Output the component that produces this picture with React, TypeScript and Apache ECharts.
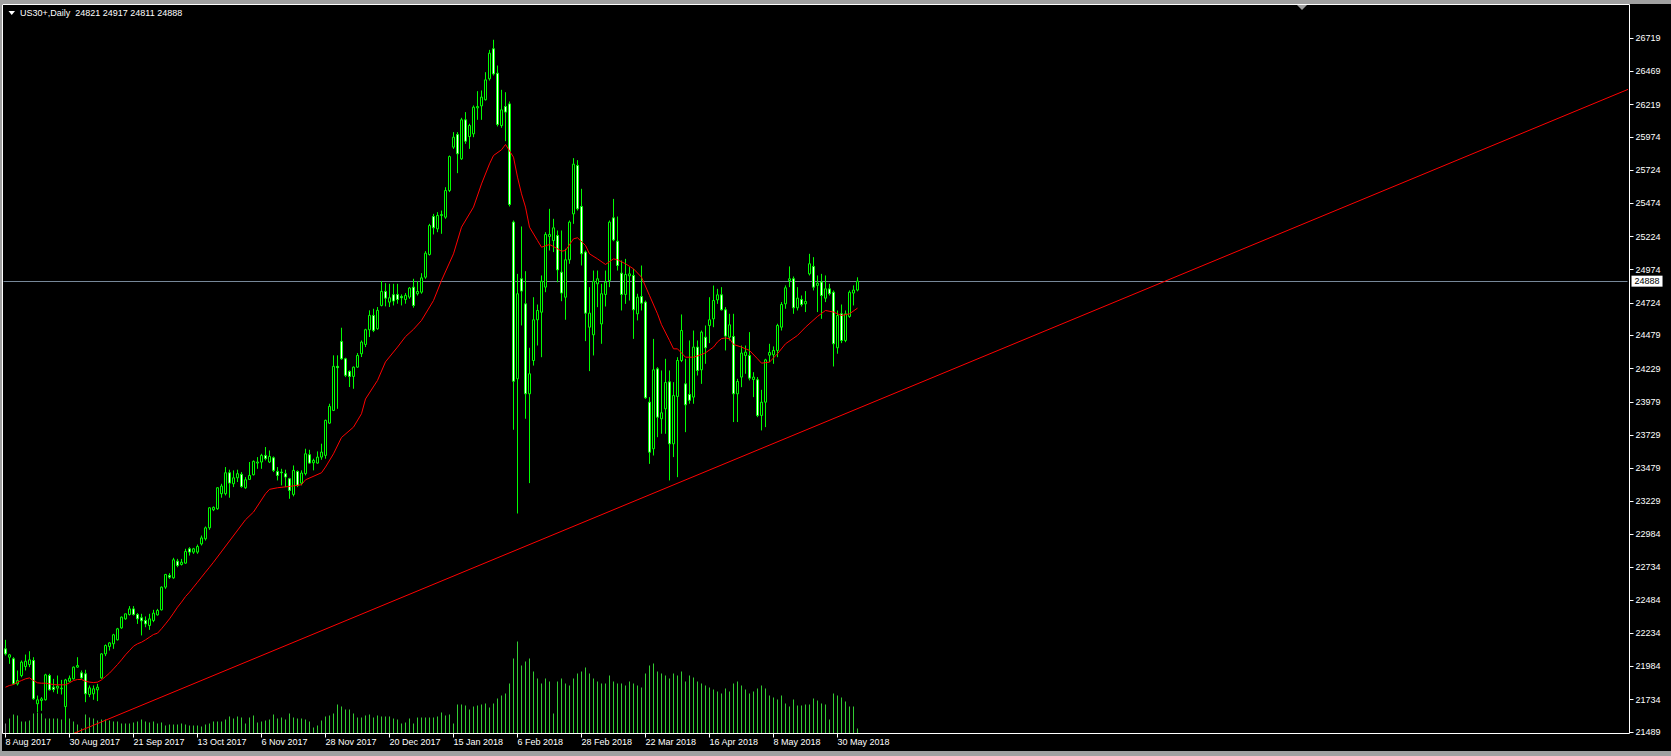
import React, { useEffect, useRef } from 'react';
import * as echarts from 'echarts';

const FONT = '"Liberation Sans", Arial, sans-serif';

const symbolName = 'US30+';
const periodName = 'Daily';

// daily bars, 8 Aug 2017 .. 6 Jun 2018
const opens = [
  22117, 22054, 22042, 21853, 21916, 21984, 21999, 22029, 21703, 21728,
  21733, 21916, 21828, 21821, 21816, 21682, 21873, 21891, 21979, 21936,
  21929, 21773, 21778, 21808, 21898, 22079, 22135, 22155, 22185, 22275,
  22343, 22376, 22418, 22376, 22351, 22331, 22293, 22331, 22373, 22411,
  22582, 22670, 22652, 22778, 22753, 22763, 22871, 22846, 22846, 22908,
  22946, 23029, 23165, 23173, 23286, 23286, 23444, 23361, 23406, 23432,
  23331, 23394, 23429, 23517, 23525, 23575, 23525, 23557, 23454, 23449,
  23437, 23399, 23281, 23454, 23366, 23437, 23580, 23519, 23517, 23562,
  23575, 23818, 23914, 24246, 24434, 24303, 24208, 24170, 24240, 24341,
  24411, 24522, 24630, 24529, 24705, 24811, 24730, 24786, 24788, 24773,
  24750, 24768, 24843, 24793, 24805, 24918, 25089, 25375, 25282, 25383,
  25370, 25571, 25898, 25993, 25810, 26104, 25978, 25998, 26194, 26209,
  26255, 26413, 26639, 26455, 26061, 26204, 26224, 25333, 24152, 24906,
  24717, 24039, 24290, 24597, 24654, 24843, 25225, 25194, 25232, 24956,
  24767, 25049, 25395, 25760, 25451, 25107, 24541, 24484, 24868, 24566,
  24788, 24893, 25365, 25189, 24948, 24788, 24928, 24931, 24642, 24772,
  24730, 23976, 23625, 24227, 23851, 23926, 24129, 23662, 24019, 24290,
  24114, 24034, 24014, 24391, 24220, 24466, 24554, 24604, 24747, 24785,
  24672, 24466, 24471, 24039, 24165, 24328, 24328, 24147, 24145, 23876,
  23976, 24330, 24333, 24366, 24541, 24717, 24893, 24906, 24687, 24750,
  24717, 24943, 24999, 24856, 24881, 24760, 24830, 24805, 24386, 24642,
  24441, 24622, 24798, 24821,
];
const highs = [
  22185, 22079, 22054, 21954, 22029, 22074, 22099, 22054, 21765, 21753,
  21929, 21929, 21891, 21916, 21883, 21891, 21916, 21984, 22054, 21954,
  21959, 21841, 21841, 21853, 22084, 22150, 22167, 22230, 22275, 22361,
  22381, 22439, 22439, 22386, 22381, 22361, 22381, 22411, 22418, 22587,
  22682, 22687, 22803, 22795, 22795, 22871, 22883, 22878, 22903, 22971,
  23039, 23185, 23190, 23336, 23361, 23487, 23467, 23462, 23467, 23449,
  23411, 23525, 23537, 23562, 23587, 23638, 23612, 23567, 23487, 23474,
  23467, 23406, 23499, 23462, 23462, 23625, 23617, 23550, 23605, 23663,
  23844, 23964, 24329, 24329, 24537, 24311, 24215, 24245, 24346, 24441,
  24529, 24668, 24680, 24693, 24889, 24873, 24868, 24868, 24868, 24788,
  24798, 24843, 24906, 24888, 24948, 25114, 25320, 25395, 25408, 25420,
  25596, 25835, 26011, 26011, 26119, 26162, 26074, 26212, 26320, 26325,
  26463, 26631, 26707, 26513, 26330, 26312, 26242, 25345, 24943, 25300,
  24963, 24386, 24767, 24712, 24931, 25257, 25433, 25358, 25270, 25270,
  25132, 25345, 25815, 25800, 25584, 25119, 24843, 24968, 24968, 24868,
  24968, 25345, 25508, 25375, 25044, 25056, 24994, 24981, 24793, 25006,
  24742, 24014, 24453, 24240, 24215, 24303, 24215, 24127, 24315, 24637,
  24303, 24441, 24516, 24441, 24516, 24554, 24767, 24855, 24830, 24843,
  24692, 24642, 24642, 24152, 24403, 24403, 24504, 24202, 24165, 24069,
  24303, 24416, 24396, 24567, 24730, 24856, 24999, 24923, 24843, 24780,
  24813, 25094, 25069, 24931, 24943, 24931, 24868, 24818, 24667, 24712,
  24667, 24818, 24856, 24917,
];
const lows = [
  22067, 22004, 21846, 21841, 21903, 21954, 21979, 21733, 21640, 21650,
  21728, 21803, 21790, 21778, 21773, 21560, 21866, 21886, 21974, 21891,
  21715, 21753, 21733, 21723, 21891, 22062, 22104, 22117, 22180, 22268,
  22336, 22368, 22368, 22305, 22218, 22280, 22260, 22318, 22368, 22406,
  22569, 22645, 22645, 22732, 22745, 22758, 22820, 22833, 22833, 22896,
  22933, 23014, 23155, 23165, 23256, 23273, 23256, 23336, 23374, 23331,
  23323, 23394, 23424, 23474, 23474, 23537, 23517, 23449, 23386, 23349,
  23336, 23248, 23266, 23336, 23349, 23424, 23512, 23462, 23512, 23542,
  23550, 23813, 23909, 23926, 24296, 24165, 24090, 24077, 24235, 24316,
  24391, 24467, 24504, 24522, 24698, 24698, 24693, 24705, 24718, 24705,
  24718, 24755, 24688, 24780, 24793, 24906, 25081, 25240, 25257, 25245,
  25358, 25559, 25885, 25702, 25802, 25923, 25885, 25973, 26104, 26104,
  26250, 26400, 26438, 26054, 26044, 25943, 25451, 23768, 23137, 24554,
  23851, 23366, 24252, 24403, 24315, 24805, 25119, 25107, 24880, 24737,
  24597, 25019, 25320, 25420, 25006, 24436, 24210, 24328, 24692, 24416,
  24697, 24843, 25189, 24968, 24667, 24717, 24742, 24453, 24592, 24667,
  24001, 23511, 23574, 23712, 23738, 23738, 23386, 23562, 23411, 24278,
  23750, 23964, 23964, 24177, 24114, 24265, 24421, 24541, 24717, 24667,
  24366, 24441, 23826, 23826, 24089, 24190, 24140, 24014, 23863, 23763,
  23788, 24278, 24265, 24315, 24516, 24680, 24843, 24642, 24667, 24697,
  24655, 24931, 24818, 24655, 24604, 24730, 24780, 24245, 24341, 24421,
  24428, 24612, 24705, 24811,
];
const closes = [
  22079, 22072, 21853, 21878, 22017, 22024, 22034, 21740, 21733, 21740,
  21921, 21808, 21810, 21836, 21821, 21883, 21896, 21979, 21991, 21898,
  21778, 21823, 21816, 21828, 22079, 22142, 22162, 22223, 22268, 22356,
  22381, 22418, 22376, 22343, 22328, 22305, 22343, 22386, 22406, 22582,
  22677, 22657, 22788, 22745, 22770, 22851, 22846, 22871, 22888, 22953,
  23029, 23180, 23183, 23331, 23344, 23444, 23366, 23406, 23437, 23341,
  23391, 23424, 23530, 23525, 23575, 23550, 23567, 23462, 23424, 23444,
  23412, 23311, 23462, 23349, 23442, 23587, 23517, 23537, 23562, 23600,
  23839, 23944, 24246, 24236, 24303, 24178, 24170, 24240, 24328, 24429,
  24522, 24630, 24517, 24668, 24811, 24760, 24763, 24738, 24750, 24763,
  24781, 24836, 24705, 24810, 24913, 25099, 25307, 25290, 25383, 25390,
  25571, 25827, 25973, 25848, 26104, 25943, 26061, 26199, 26204, 26275,
  26405, 26606, 26450, 26069, 26179, 26162, 25466, 24134, 24793, 24813,
  24039, 24190, 24597, 24667, 24888, 25240, 25240, 25290, 24973, 24798,
  25049, 25333, 25770, 25433, 25094, 24647, 24647, 24888, 24906, 24793,
  24881, 25333, 25199, 25006, 24788, 24938, 24943, 24672, 24767, 24722,
  24009, 23599, 24220, 23863, 23896, 24124, 23662, 24026, 24290, 24516,
  23956, 23990, 24391, 24215, 24504, 24386, 24597, 24742, 24785, 24672,
  24474, 24559, 24039, 24132, 24346, 24353, 24157, 24165, 23876, 23976,
  24295, 24351, 24366, 24554, 24712, 24838, 24906, 24687, 24760, 24712,
  24735, 25019, 24843, 24873, 24780, 24830, 24793, 24416, 24629, 24441,
  24642, 24805, 24821, 24888,
];
// tick volume, thousands
const volumes = [
  10, 15, 19, 18, 12, 12, 13, 20, 21, 20,
  15, 15, 15, 15, 14, 18, 15, 12, 9, 5,
  19, 16, 15, 13, 14, 14, 13, 12, 12, 10,
  10, 10, 11, 12, 14, 12, 11, 12, 10, 11,
  8, 9, 9, 9, 10, 9, 8, 8, 8, 7,
  9, 10, 12, 12, 12, 14, 17, 15, 17, 16,
  10, 16, 18, 11, 12, 13, 14, 19, 15, 16,
  14, 20, 16, 15, 15, 14, 12, 6, 8, 13,
  17, 18, 20, 29, 27, 24, 24, 20, 16, 16,
  18, 19, 16, 18, 17, 17, 17, 15, 14, 10,
  11, 15, 10, 16, 16, 16, 16, 16, 17, 21,
  18, 19, 10, 29, 29, 28, 24, 27, 28, 29,
  30, 26, 30, 35, 38, 40, 50, 75, 92, 68,
  72, 75, 62, 55, 50, 55, 52, 20, 52, 55,
  50, 48, 55, 60, 62, 66, 60, 55, 52, 50,
  50, 58, 52, 50, 50, 48, 52, 50, 48, 46,
  60, 68, 70, 62, 60, 58, 55, 60, 58, 62,
  52, 58, 56, 52, 50, 48, 46, 44, 42, 40,
  45, 42, 50, 52, 48, 44, 40, 42, 45, 48,
  45, 38, 36, 34, 38, 30, 27, 34, 28, 28,
  29, 29, 35, 33, 30, 29, 14, 40, 38, 36,
  32, 27, 27, 5,
];
// moving average (red), [bar index, value]
const maPoints = [
  [0, 21828], [1, 21841], [2, 21848], [3, 21866], [4, 21878], [5, 21891], [6, 21898],
  [7, 21878], [8, 21861], [9, 21858], [10, 21858], [11, 21853], [12, 21848], [13, 21846],
  [15, 21846], [16, 21861], [17, 21878], [18, 21886], [19, 21886], [20, 21873], [21, 21866],
  [22, 21863], [23, 21866], [24, 21883], [25, 21908], [26, 21934], [27, 21966], [28, 21999],
  [29, 22034], [30, 22072], [31, 22104], [32, 22137], [33, 22155], [34, 22167], [35, 22185],
  [36, 22205], [37, 22225], [38, 22235], [39, 22268], [40, 22305], [41, 22343], [42, 22386],
  [43, 22431], [44, 22469], [45, 22511], [46, 22544], [47, 22582], [48, 22619], [49, 22657],
  [50, 22695], [51, 22732], [52, 22770], [60, 23090], [62, 23148], [65, 23286], [66, 23319],
  [68, 23331], [71, 23341], [74, 23354], [75, 23391], [79, 23444], [80, 23487], [82, 23587],
  [84, 23710], [87, 23788], [89, 23889], [90, 24000], [93, 24140], [95, 24280], [98, 24391],
  [100, 24470], [102, 24525], [104, 24592], [107, 24742], [109, 24893], [112, 25094],
  [114, 25295], [117, 25446], [119, 25621], [121, 25772], [122, 25835], [124, 25878],
  [125, 25918], [127, 25822], [128, 25672], [129, 25546], [130, 25446], [131, 25295],
  [133, 25194], [134, 25144], [136, 25164], [137, 25149], [139, 25114], [140, 25119],
  [142, 25207], [143, 25215], [145, 25157], [146, 25094], [148, 25056], [150, 25014],
  [152, 25056], [153, 25049], [155, 25019], [157, 24981], [159, 24918], [161, 24780],
  [163, 24642], [164, 24560], [166, 24441], [167, 24378], [168, 24378], [170, 24315],
  [172, 24315], [174, 24335], [175, 24348], [177, 24391], [178, 24430], [179, 24455],
  [180, 24460], [181, 24454], [182, 24411], [184, 24391], [186, 24366], [188, 24303],
  [189, 24270], [191, 24278], [193, 24341], [195, 24416], [198, 24479], [200, 24541],
  [203, 24622], [205, 24667], [207, 24655], [209, 24629], [211, 24642], [213, 24685],
];
// trend line anchors [bar index, price]
const trendPoints = [[17, 21479], [406, 26338]];

const dateTickLabels = [
  '8 Aug 2017', '30 Aug 2017', '21 Sep 2017', '13 Oct 2017', '6 Nov 2017', '28 Nov 2017',
  '20 Dec 2017', '15 Jan 2018', '6 Feb 2018', '28 Feb 2018', '22 Mar 2018', '16 Apr 2018',
  '8 May 2018', '30 May 2018',
];
const barsPerDateTick = 16;
const priceTicks = [
  26719, 26469, 26219, 25974, 25724, 25474, 25224, 24974, 24724, 24479, 24229,
  23979, 23729, 23479, 23229, 22984, 22734, 22484, 22234, 21984, 21734, 21489,
];
const priceMin = 21479;
const priceMax = 26973;
const totalSlots = 406;

export default function App() {
  const ref = useRef<HTMLDivElement>(null);
  useEffect(() => {
    const chart = echarts.init(ref.current!, null, { renderer: 'svg', width: 1671, height: 756 });
    const n = opens.length;
    const cats = Array.from({ length: totalSlots }, (_, i) => String(i));
    const candleData = opens.map((o, i) => [o, closes[i], lows[i], highs[i]]);
    const last = n - 1;
    const isTick = (i: number) => i % barsPerDateTick === 0 && i < n;
    const titleText = `${symbolName},${periodName}  ${opens[last]} ${highs[last]} ${lows[last]} ${closes[last]}`;

    chart.setOption({
      animation: false,
      backgroundColor: '#000000',
      grid: { left: 3.5, top: 4.5, width: totalSlots * 4, height: 729, show: false },
      xAxis: {
        type: 'category',
        data: cats,
        boundaryGap: true,
        axisLine: { show: false },
        axisTick: {
          show: true,
          alignWithLabel: true,
          interval: (i: number) => isTick(i),
          length: 4,
          lineStyle: { color: '#ffffff', width: 1 },
        },
        axisLabel: {
          interval: (i: number) => isTick(i),
          formatter: (_v: string, i: number) => dateTickLabels[i / barsPerDateTick] ?? '',
          color: '#ffffff',
          fontSize: 9,
          fontFamily: FONT,
          align: 'left',
          margin: 4,
        },
        splitLine: { show: false },
      },
      yAxis: [
        {
          type: 'value',
          position: 'right',
          offset: 2,
          min: priceMin,
          max: priceMax,
          splitLine: { show: false },
          axisLine: { show: false },
          axisTick: {
            show: true,
            customValues: priceTicks,
            length: 4,
            lineStyle: { color: '#ffffff', width: 1 },
          },
          axisLabel: {
            customValues: priceTicks,
            color: '#ffffff',
            fontSize: 9,
            fontFamily: FONT,
            margin: 6,
            formatter: (v: number) => String(v),
          },
        },
        { type: 'value', min: 0, max: 729, show: false },
      ],
      series: [
        {
          type: 'bar',
          yAxisIndex: 1,
          data: volumes,
          barWidth: 1,
          itemStyle: {
            color: (p: any) => (p.dataIndex === 0 ? '#808080' : '#32cd32'),
          },
          z: 1,
        },
        {
          type: 'candlestick',
          data: candleData,
          barWidth: 2,
          itemStyle: {
            color: '#000000',
            color0: '#ffffff',
            borderColor: '#00ff00',
            borderColor0: '#00ff00',
            borderWidth: 1,
          },
          z: 3,
          markLine: {
            silent: true,
            symbol: 'none',
            z: 2,
            lineStyle: { color: '#778899', width: 1, type: 'solid' },
            label: {
              show: true,
              position: 'end',
              distance: 4,
              formatter: String(closes[last]),
              backgroundColor: '#ffffff',
              color: '#000000',
              fontSize: 9,
              fontFamily: FONT,
              padding: [1, 3, 0, 3],
              lineHeight: 10,
            },
            data: [{ yAxis: closes[last] }],
          },
        },
        {
          type: 'line',
          data: maPoints,
          showSymbol: false,
          symbol: 'none',
          lineStyle: { color: '#ff0000', width: 1 },
          z: 4,
        },
        {
          type: 'line',
          data: trendPoints,
          showSymbol: false,
          symbol: 'none',
          clip: false,
          lineStyle: { color: '#ff0000', width: 1 },
          z: 4,
        },
      ],
      graphic: [
        { type: 'rect', shape: { x: 0, y: 0, width: 1671, height: 4 }, style: { fill: '#a0a0a0' }, z: 100 },
        { type: 'rect', shape: { x: 0, y: 0, width: 2, height: 756 }, style: { fill: '#a0a0a0' }, z: 100 },
        { type: 'rect', shape: { x: 0, y: 751, width: 1671, height: 5 }, style: { fill: '#a0a0a0' }, z: 100 },
        {
          type: 'rect',
          shape: { x: 2.5, y: 4.5, width: 1627, height: 729 },
          style: { fill: 'none', stroke: '#ffffff', lineWidth: 1 },
          z: 100,
        },
        {
          type: 'polygon',
          shape: { points: [[8.5, 11], [15, 11], [11.75, 15]] },
          style: { fill: '#ffffff' },
          z: 101,
        },
        {
          type: 'text',
          x: 20,
          y: 13,
          style: {
            text: titleText,
            fill: '#ffffff',
            font: `9px ${FONT}`,
            textVerticalAlign: 'middle',
          },
          z: 101,
        },
        {
          type: 'polygon',
          shape: { points: [[1297, 5], [1307, 5], [1302, 10]] },
          style: { fill: '#a0a0a0' },
          z: 101,
        },
      ],
    });
    return () => chart.dispose();
  }, []);
  return <div ref={ref} style={{ position: 'absolute', left: 0, top: 0, width: 1671, height: 756 }} />;
}
